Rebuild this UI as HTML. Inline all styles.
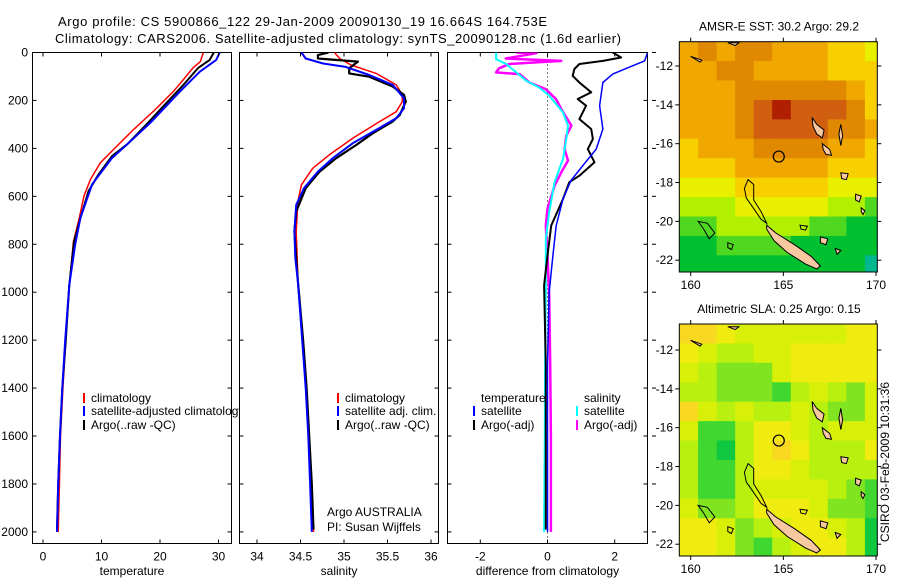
<!DOCTYPE html>
<html><head><meta charset="utf-8">
<style>
html,body{margin:0;padding:0;background:#fff;}
svg{display:block;font-family:"Liberation Sans",Arial,sans-serif;}
text{font-size:12px;fill:#000;}
</style></head>
<body>
<svg id="fig" width="900" height="580" viewBox="0 0 900 580" xmlns="http://www.w3.org/2000/svg">
<rect width="900" height="580" fill="#fff"/>
<text x="58" y="26" textLength="489" style="font-size:13px">Argo profile: CS 5900866_122 29-Jan-2009 20090130_19 16.664S 164.753E</text>
<text x="55" y="43" textLength="566" style="font-size:13px">Climatology: CARS2006. Satellite-adjusted climatology: synTS_20090128.nc (1.6d earlier)</text>
<text x="889" y="462" text-anchor="middle" transform="rotate(-90 889 462)">CSIRO 03-Feb-2009 10:31:36</text>
</svg>
<script>
// ---------- DATA ----------
const depthTicks=[0,200,400,600,800,1000,1200,1400,1600,1800,2000];
const tempTicks=[0,10,20,30];
const salTicks=[34,34.5,35,35.5,36];
const diffTicks=[-2,0,2];

const tClimZ=[0,38,65,107,162,238,321,411,460,530,600,690,790,970,1200,1400,1600,1800,2000];
const tClimV=[27.4,26.9,25.6,24.2,22.3,19.2,15.5,11.8,9.8,8.1,7.0,6.2,5.2,4.5,3.9,3.4,3.0,2.8,2.6];
const tSatZ=[0,31,80,163,294,383,440,550,690,800,970,1200,1400,1600,1800,2000];
const tSatV=[30.2,29.6,26.8,23.4,18.3,14.4,11.8,8.4,6.4,5.5,4.5,3.8,3.3,2.9,2.6,2.4];
const tArgoZ=[0,31,65,135,218,300,383,432,508,578,690,790,970,1200,1400,1600,1800,1990];
const tArgoV=[29.2,28.5,26.5,24.0,20.8,17.7,14.4,11.8,9.5,7.8,6.4,5.3,4.5,3.9,3.3,2.9,2.6,2.4];

const sClimZ=[0,25,52,87,135,177,205,247,288,358,427,483,552,622,747,941,1200,1400,1600,1800,2000];
const sClimV=[34.89,34.95,35.08,35.37,35.60,35.67,35.67,35.60,35.41,35.10,34.83,34.64,34.51,34.47,34.45,34.47,34.53,34.56,34.59,34.62,34.65];
const sSatZ=[0,25,46,60,94,135,191,233,274,323,379,441,497,566,636,747,858,955,1200,1400,1600,1800,2000];
const sSatV=[34.51,34.56,34.76,35.02,35.29,35.56,35.69,35.69,35.60,35.37,35.10,34.87,34.70,34.54,34.45,34.43,34.44,34.47,34.52,34.56,34.59,34.61,34.63];
const sArgoZ=[0,11,25,38,66,87,101,142,177,205,261,288,337,386,441,497,566,663,747,858,955,1200,1400,1600,1800,1990];
const sArgoV=[34.82,34.70,34.70,35.16,35.06,35.06,35.29,35.56,35.69,35.71,35.64,35.56,35.33,35.14,34.91,34.72,34.56,34.45,34.43,34.45,34.47,34.53,34.57,34.60,34.63,34.65];

const dTSatZ=[0,35,55,90,125,222,319,403,472,534,611,722,847,1000,1300,1600,2000];
const dTSatV=[2.98,2.89,2.54,1.94,1.65,1.55,1.65,1.45,1.05,0.70,0.46,0.26,0.16,0.05,0.0,0.0,0.0];
const dTArgoZ=[0,21,35,48,69,97,125,166,194,222,278,319,361,403,458,514,541,611,722,847,972,1300,1600,1990];
const dTArgoV=[1.94,2.19,1.65,0.95,0.80,0.75,0.95,1.30,0.90,1.15,0.95,1.30,1.35,1.20,1.40,0.95,0.65,0.46,0.11,0.0,-0.1,-0.05,-0.05,-0.05];
const dSSatZ=[0,28,48,83,118,146,180,250,305,361,444,541,666,777,985,1300,1600,2000];
const dSSatV=[-1.53,-1.53,-1.23,-0.93,-0.63,-0.25,0.05,0.46,0.61,0.56,0.46,0.21,0.05,-0.05,-0.05,-0.07,-0.08,-0.1];
const dSArgoZ=[0,3,25,35,48,66,83,90,125,153,194,236,305,347,403,451,500,555,652,722,847,1014,1300,1600,2000];
const dSArgoV=[-0.93,-0.33,-1.24,0.41,-1.14,-1.44,-1.53,-0.83,-0.54,-0.05,0.25,0.41,0.71,0.56,0.51,0.61,0.41,0.21,0.0,-0.05,0.0,0.05,0.08,0.1,0.1];

// maps: rows lat -11..-22, cols lon 160..170
const sstGrid=[
[29.5,29.6,29.5,29.6,29.6,29.5,29.3,29.2,29.0,28.9,28.7],
[29.4,29.5,29.6,29.6,29.5,29.5,29.4,29.3,29.1,29.0,28.9],
[29.3,29.4,29.5,29.6,29.7,29.7,29.7,29.7,29.6,29.2,29.0],
[29.3,29.3,29.5,29.8,30.1,30.3,30.0,30.0,29.9,29.6,29.1],
[29.2,29.3,29.5,29.7,30.0,30.0,30.1,30.1,29.8,29.6,29.2],
[29.0,29.2,29.4,29.5,29.6,29.7,29.8,29.7,29.5,29.3,29.0],
[28.9,29.0,29.1,29.2,29.2,29.3,29.3,29.2,29.1,29.0,28.8],
[28.4,28.5,28.7,28.8,28.8,28.9,28.9,28.8,28.7,28.6,28.4],
[28.0,28.1,28.3,28.4,28.5,28.5,28.5,28.4,28.2,28.0,27.9],
[27.8,27.8,28.0,28.2,28.3,28.2,28.1,27.7,27.6,27.5,27.5],
[27.4,27.5,27.6,27.6,27.7,27.6,27.5,27.4,27.3,27.3,27.2],
[27.3,27.3,27.4,27.4,27.3,27.2,27.2,27.3,27.3,27.2,27.1]];
const slaGrid=[
[0.27,0.27,0.25,0.22,0.22,0.22,0.22,0.22,0.23,0.24,0.25],
[0.24,0.23,0.20,0.20,0.21,0.23,0.26,0.25,0.25,0.26,0.25],
[0.21,0.18,0.16,0.16,0.17,0.21,0.25,0.24,0.24,0.25,0.24],
[0.20,0.19,0.16,0.17,0.17,0.13,0.20,0.23,0.20,0.17,0.22],
[0.27,0.22,0.20,0.22,0.20,0.18,0.22,0.20,0.17,0.16,0.21],
[0.22,0.13,0.12,0.20,0.25,0.26,0.22,0.20,0.21,0.21,0.22],
[0.20,0.12,0.11,0.20,0.26,0.29,0.24,0.20,0.20,0.20,0.24],
[0.20,0.12,0.12,0.20,0.24,0.25,0.22,0.20,0.18,0.19,0.20],
[0.20,0.12,0.12,0.20,0.23,0.23,0.22,0.23,0.20,0.16,0.13],
[0.21,0.16,0.16,0.20,0.24,0.24,0.25,0.21,0.16,0.15,0.12],
[0.24,0.24,0.22,0.17,0.18,0.21,0.24,0.24,0.22,0.18,0.10],
[0.25,0.25,0.22,0.16,0.13,0.18,0.23,0.26,0.24,0.20,0.11]];
const lonTicks=[160,165,170];
const latTicks=[-12,-14,-16,-18,-20,-22];
const argoLon=164.753, argoLat=-16.664;

// ---------- DRAW ----------
const NS='http://www.w3.org/2000/svg';
const svg=document.getElementById('fig');
function add(parent,tag,attrs,name){
  const el=document.createElementNS(NS,tag);
  for(const k in attrs) el.setAttribute(k,attrs[k]);
  
  
  parent.appendChild(el);
  return el;
}
const Y=z=>52.5+0.2397*z;
const XT=t=>43+5.85*t;
const XS=s=>257+87*(s-34);
const XD=d=>547.5+33.6*d;

const panels=[
 {x0:32.5,x1:231.5,fx:XT,ticks:tempTicks,label:'temperature',name:'temperature-panel'},
 {x0:239.5,x1:438.5,fx:XS,ticks:salTicks,label:'salinity',name:'salinity-panel'},
 {x0:447.5,x1:647.5,fx:XD,ticks:diffTicks,label:'difference from climatology',name:'difference-panel'}];
const pTop=52.5,pBot=543.5;
panels.forEach((p,i)=>{
  const g=add(svg,'g',{},p.name);
  add(g,'rect',{x:p.x0,y:pTop,width:p.x1-p.x0,height:pBot-pTop,fill:'#fff',stroke:'#000','stroke-width':1},p.name+'-frame');
  p.g=g;
  const cid='clip'+i;
  const cp=add(g,'clipPath',{id:cid},p.name+'-clip');
  add(cp,'rect',{x:p.x0,y:pTop,width:p.x1-p.x0,height:pBot-pTop},p.name+'-clip-rect');
  p.lines=add(g,'g',{'clip-path':'url(#'+cid+')'},p.name+'-series');
  p.ticks.forEach(v=>{
    const x=p.fx(v);
    add(g,'line',{x1:x,x2:x,y1:pBot,y2:pBot-4,stroke:'#000'},'x-tick');
    add(g,'line',{x1:x,x2:x,y1:pTop,y2:pTop+4,stroke:'#000'},'x-tick-top');
    const t=add(g,'text',{x:x,y:pBot+17,'text-anchor':'middle'},'x-tick-label');
    t.textContent=String(v);
  });
  depthTicks.forEach(z=>{
    const y=Y(z);
    add(g,'line',{x1:p.x0,x2:p.x0+4,y1:y,y2:y,stroke:'#000'},'y-tick');
    add(g,'line',{x1:p.x1,x2:p.x1-4,y1:y,y2:y,stroke:'#000'},'y-tick-right');
    if(i===0){
      const t=add(g,'text',{x:28,y:y+4,'text-anchor':'end'},'y-tick-label');
      t.textContent=String(z);
    }
    if(i===2){
      add(g,'line',{x1:652,x2:656,y1:y,y2:y,stroke:'#000'},'outer-y-tick');
    }
  });
  const xl=add(g,'text',{x:(p.x0+p.x1)/2,y:575,'text-anchor':'middle'},'x-axis-title');
  xl.textContent=p.label;
});
function series(p,zs,vs,color,w,name,dash){
  const pts=zs.map((z,k)=>p.fx(vs[k]).toFixed(1)+','+Y(z).toFixed(1)).join(' ');
  const a={points:pts,fill:'none',stroke:color,'stroke-width':w,'stroke-linejoin':'round'};
  if(dash) a['stroke-dasharray']=dash;
  add(p.lines,'polyline',a,name);
}
const P1=panels[0],P2=panels[1],P3=panels[2];
add(P3.lines,'line',{x1:XD(0),x2:XD(0),y1:pTop,y2:pBot,stroke:'#000','stroke-dasharray':'1,3'},'zero-line');
series(P1,tClimZ,tClimV,'#f00',1.5,'temp-climatology-line');
series(P1,tArgoZ,tArgoV,'#000',2,'temp-argo-line');
series(P1,tSatZ,tSatV,'#00f',2,'temp-satellite-line');
series(P2,sClimZ,sClimV,'#f00',1.5,'sal-climatology-line');
series(P2,sArgoZ,sArgoV,'#000',2.2,'sal-argo-line');
series(P2,sSatZ,sSatV,'#00f',2,'sal-satellite-line');
series(P3,dSArgoZ,dSArgoV,'#f0f',2.5,'diff-sal-argo-line');
series(P3,dSSatZ,dSSatV,'#0ff',2,'diff-sal-satellite-line');
series(P3,dTArgoZ,dTArgoV,'#000',2,'diff-temp-argo-line');
series(P3,dTSatZ,dTSatV,'#00f',1.5,'diff-temp-satellite-line');

function legend(parent,x,y,color,label){
  if(color) add(parent,'line',{x1:x,x2:x,y1:y-5,y2:y+5,stroke:color,'stroke-width':2},'legend-marker');
  const t=add(parent,'text',{x:x+7,y:y+4},'legend-label');
  t.textContent=label;
}
const lg1=add(P1.g,'g',{},'temperature-legend');
legend(lg1,84,398,'#f00','climatology');
legend(lg1,84,411,'#00f','satellite-adjusted climatology');
legend(lg1,84,425,'#000','Argo(..raw -QC)');
const lg2=add(P2.g,'g',{},'salinity-legend');
legend(lg2,338,398,'#f00','climatology');
legend(lg2,338,411,'#00f','satellite adj. clim.');
legend(lg2,338,425,'#000','Argo(..raw -QC)');
const cr=add(P2.g,'text',{x:327,y:516},'argo-australia-credit');cr.textContent='Argo AUSTRALIA';
const pi=add(P2.g,'text',{x:327,y:531},'pi-credit');pi.textContent='PI: Susan Wijffels';
const lg3=add(P3.g,'g',{},'difference-legend');
legend(lg3,474,398,null,'temperature');
legend(lg3,474,411,'#00f','satellite');
legend(lg3,474,425,'#000','Argo(-adj)');
legend(lg3,577,398,null,'salinity');
legend(lg3,577,411,'#0ff','satellite');
legend(lg3,577,425,'#f0f','Argo(-adj)');

// ---------- MAPS ----------
const mx0=679.3,mx1=877.3;
const LX=lon=>690.7+18.53*(lon-160);
function sstColor(v){
  const st=[[27.0,'#00b890'],[27.3,'#00c030'],[27.7,'#50d820'],[28.1,'#b0f000'],[28.5,'#e8f000'],[28.9,'#f8d000'],[29.3,'#f0a800'],[29.7,'#e08800'],[30.0,'#d06010'],[30.3,'#b02000'],[30.6,'#900000']];
  let c=st[0][1];for(const s of st){if(v>=s[0]-0.15)c=s[1];}return c;}
function slaColor(v){
  const st=[[0.10,'#10c840'],[0.13,'#40d830'],[0.16,'#80e420'],[0.19,'#b8f010'],[0.22,'#d8f008'],[0.25,'#f0ec10'],[0.28,'#f8d820']];
  let c=st[0][1];for(const s of st){if(v>=s[0]-0.015)c=s[1];}return c;}
const islands=[
 {pts:[[164.1,-20.2],[164.6,-20.6],[165.6,-21.2],[166.5,-21.8],[167.0,-22.3],[166.8,-22.45],[166.2,-22.2],[165.2,-21.6],[164.5,-21.0],[164.1,-20.4]],fill:'#f8c8a0',name:'new-caledonia'},
 {pts:[[166.55,-14.65],[166.8,-15.0],[167.2,-15.3],[167.1,-15.7],[166.8,-15.5],[166.6,-15.1]],fill:'#f8c8a0',name:'espiritu-santo'},
 {pts:[[167.1,-16.0],[167.5,-16.3],[167.6,-16.6],[167.3,-16.55],[167.15,-16.3]],fill:'#f8c8a0',name:'malekula'},
 {pts:[[168.1,-15.0],[168.2,-15.6],[168.1,-16.1],[168.0,-15.5]],fill:'#f8c8a0',name:'pentecost'},
 {pts:[[168.1,-17.5],[168.5,-17.55],[168.4,-17.85],[168.15,-17.8]],fill:'#f8c8a0',name:'efate'},
 {pts:[[168.9,-18.6],[169.2,-18.7],[169.1,-19.0],[168.9,-18.9]],fill:'#f8c8a0',name:'erromango'},
 {pts:[[169.2,-19.3],[169.4,-19.45],[169.3,-19.65],[169.2,-19.5]],fill:'#f8c8a0',name:'tanna'},
 {pts:[[167.0,-20.8],[167.4,-20.9],[167.3,-21.2],[167.0,-21.1]],fill:'#f8c8a0',name:'lifou'},
 {pts:[[167.8,-21.4],[168.1,-21.5],[167.9,-21.7]],fill:'#f8c8a0',name:'mare'},
 {pts:[[162.9,-18.3],[163.1,-17.85],[163.4,-18.1],[163.4,-18.9],[163.8,-19.5],[164.1,-20.1],[163.8,-19.9],[163.3,-19.2],[163.0,-18.8]],fill:'none',name:'reef-outline'},
 {pts:[[160.4,-20.0],[160.9,-20.1],[161.3,-20.6],[161.0,-20.9],[160.7,-20.4]],fill:'none',name:'chesterfield-reef'},
 {pts:[[162.0,-21.1],[162.3,-21.2],[162.2,-21.45],[162.0,-21.35]],fill:'none',name:'small-reef'},
 {pts:[[165.9,-20.2],[166.3,-20.25],[166.2,-20.45],[165.95,-20.4]],fill:'none',name:'reef-ring'},
 {pts:[[160.0,-11.5],[160.6,-11.7],[160.5,-11.8]],fill:'#f8c8a0',name:'rennell-island'},
 {pts:[[162.0,-10.8],[162.6,-10.8],[162.4,-10.95]],fill:'#f8c8a0',name:'san-cristobal'}];
function drawMap(idx,y0,y1,ymapLatM12,grid,colorFn,title,cellName){
  const LY=lat=>ymapLatM12+19.42*(-12-lat);
  const g=add(svg,'g',{},idx===0?'sst-map':'sla-map');
  const cid='mclip'+idx;
  const cp=add(g,'clipPath',{id:cid},'map-clip');
  add(cp,'rect',{x:mx0,y:y0,width:mx1-mx0,height:y1-y0},'map-clip-rect');
  const cells=add(g,'g',{'clip-path':'url(#'+cid+')'},'map-cells');
  const latTop=-12-(y0-ymapLatM12)/19.42;
  grid.forEach((row,r)=>row.forEach((v,c)=>{
    const lonA=159.4+c, latA=latTop-r;
    const x=LX(lonA), y=LY(latA);
    add(cells,'rect',{x:x.toFixed(1),y:y.toFixed(1),width:19,height:20,fill:colorFn(v)},cellName);
  }));
  islands.forEach(is=>{
    const pts=is.pts.map(p=>LX(p[0]).toFixed(1)+','+LY(p[1]).toFixed(1)).join(' ');
    add(cells,'polygon',{points:pts,fill:is.fill,stroke:'#000','stroke-width':1},is.name);
  });
  add(cells,'circle',{cx:LX(argoLon),cy:LY(argoLat),r:5.5,fill:'none',stroke:'#000','stroke-width':1.2},'argo-location-marker');
  add(g,'rect',{x:mx0,y:y0,width:mx1-mx0,height:y1-y0,fill:'none',stroke:'#000'},'map-frame');
  lonTicks.forEach(l=>{
    const x=LX(l);
    add(g,'line',{x1:x,x2:x,y1:y1,y2:y1+4,stroke:'#000'},'lon-tick');
    add(g,'line',{x1:x,x2:x,y1:y0,y2:y0-4,stroke:'#000'},'lon-tick-top');
    const t=add(g,'text',{x:x,y:y1+17,'text-anchor':'middle'},'lon-tick-label');t.textContent=String(l);
  });
  latTicks.forEach(l=>{
    const y=LY(l);
    add(g,'line',{x1:mx0,x2:mx0-4,y1:y,y2:y,stroke:'#000'},'lat-tick');
    add(g,'line',{x1:mx1,x2:mx1+4,y1:y,y2:y,stroke:'#000'},'lat-tick-right');
    const t=add(g,'text',{x:673,y:y+4,'text-anchor':'end'},'lat-tick-label');t.textContent=String(l);
  });
  const tt=add(g,'text',{x:779,y:y0-11,'text-anchor':'middle'},'map-title');tt.textContent=title;
}
drawMap(0,41.7,272,66,sstGrid,sstColor,'AMSR-E SST: 30.2 Argo: 29.2','sst-cell');
drawMap(1,324,556,350,slaGrid,slaColor,'Altimetric SLA: 0.25 Argo: 0.15','sla-cell');
</script>
</body></html>
